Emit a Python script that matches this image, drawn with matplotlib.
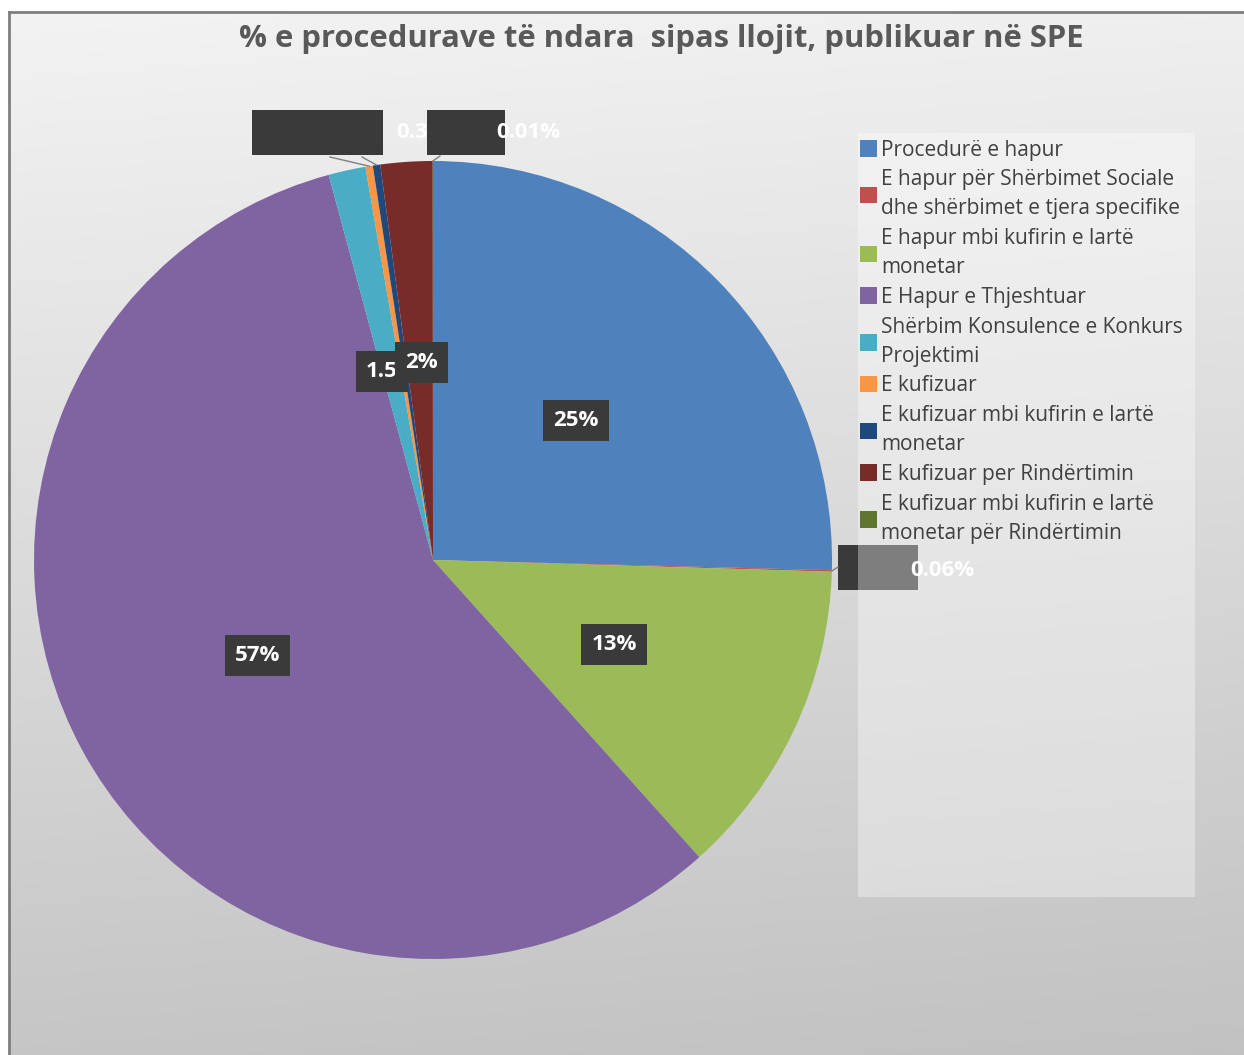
import matplotlib
matplotlib.use("Agg")
import matplotlib.pyplot as plt
from matplotlib.patches import Rectangle
import numpy as np

plt.rcParams['font.family'] = ['Open Sans', 'DejaVu Sans']

# te dhenat
kategorite = [
    "Procedurë e hapur",
    "E hapur për Shërbimet Sociale\ndhe shërbimet e tjera specifike",
    "E hapur mbi kufirin e lartë\nmonetar",
    "E Hapur e Thjeshtuar",
    "Shërbim Konsulence e Konkurs\nProjektimi",
    "E kufizuar",
    "E kufizuar mbi kufirin e lartë\nmonetar",
    "E kufizuar per Rindërtimin",
    "E kufizuar mbi kufirin e lartë\nmonetar për Rindërtimin",
]
vlerat = [25.4, 0.06, 12.9, 57.4, 1.5, 0.3, 0.3, 2.1, 0.01]
etiketat = ["25%", "0.06%", "13%", "57%", "1.5", "0.3", "", "2%", "0.01%"]
ngjyrat = ["#4f81bd", "#c0504d", "#9bbb59", "#8064a2", "#4bacc6",
           "#f79646", "#1f497d", "#772c2a", "#5f7530"]

W, H = 1244, 1055
fig = plt.figure(figsize=(W / 100, H / 100), dpi=100)

# sfondi me gradient
bg = fig.add_axes([0, 0, 1, 1], zorder=-1)
yy, xx = np.mgrid[0:H, 0:W]
g = 0.955 - 0.18 * (yy / H) - 0.015 * (xx / W)
img = np.dstack([g, g, g])
img[:12, :, :] = 1.0
img[:, :9, :] = 1.0
bg.imshow(img, aspect='auto', extent=(0, W, H, 0))
bg.plot([9, 9], [12, H], color="#7f7f7f", lw=2)
bg.plot([9, W], [12, 12], color="#7f7f7f", lw=2)
bg.set_xlim(0, W)
bg.set_ylim(H, 0)
bg.axis('off')

ax = fig.add_axes([0, 0, 1, 1])
ax.set_xlim(0, W)
ax.set_ylim(0, H)
ax.axis('off')


def Y(y):
    return H - y


cx, cy, r = 433, Y(560), 399
wedges, _ = ax.pie(vlerat, colors=ngjyrat, startangle=90, counterclock=False,
                   center=(cx, cy), radius=r, normalize=True,
                   wedgeprops=dict(linewidth=0))
ax.set_xlim(0, W)
ax.set_ylim(0, H)
ax.set_aspect('auto')

box = dict(boxstyle='square,pad=0.45', fc='#3a3a3a', ec='none')
txt = dict(color='white', fontsize=16, fontweight='bold', ha='center', va='center')


def mid(w):
    return np.deg2rad((w.theta1 + w.theta2) / 2)


# etiketat brenda
for i in [0, 2, 3]:
    a = mid(wedges[i])
    ax.text(cx + 0.5 * r * np.cos(a), cy + 0.5 * r * np.sin(a), etiketat[i],
            bbox=box, **txt)
a = mid(wedges[4])
ax.text(cx + 0.5 * r * np.cos(a) - 8, cy + 0.5 * r * np.sin(a) - 6, etiketat[4],
        bbox=box, **txt)
a = mid(wedges[7])
ax.text(cx + 0.5 * r * np.cos(a) + 2, cy + 0.5 * r * np.sin(a) - 2, etiketat[7],
        bbox=box, **txt)


def edge(i):
    a = mid(wedges[i])
    return cx + r * np.cos(a), cy + r * np.sin(a)


# etiketat jashte
for i, x0 in [(5, 330), (6, 362)]:
    ex, ey = edge(i)
    ax.plot([x0, ex], [Y(157), ey], color='#7f7f7f', lw=1)
ax.add_patch(Rectangle((252, Y(155)), 131, 45, fc='#3a3a3a', ec='none'))
ax.text(396, Y(133), etiketat[5], color='white', fontsize=16, fontweight='bold',
        ha='left', va='center')

ex, ey = edge(8)
ax.plot([440, ex], [Y(156), ey], color='#7f7f7f', lw=1)
ax.add_patch(Rectangle((427, Y(155)), 78, 45, fc='#3a3a3a', ec='none'))
ax.text(496, Y(133), etiketat[8], color='white', fontsize=16, fontweight='bold',
        ha='left', va='center')

ex, ey = edge(1)
ax.plot([ex, 838], [ey, Y(567)], color='#7f7f7f', lw=1)
ax.add_patch(Rectangle((838, Y(590)), 80, 45, fc='#3a3a3a', ec='none'))

# legjenda
ax.add_patch(Rectangle((858, Y(897)), 337, 764, fc='white', ec='none',
                       alpha=0.35, zorder=5))
leg = ax.legend(wedges, kategorite, loc='upper left',
                bbox_to_anchor=(845 / W, 1 - 125 / H), bbox_transform=fig.transFigure,
                frameon=False, fontsize=15, handlelength=0.85, handleheight=0.85,
                handletextpad=0.2, labelspacing=0.42, borderpad=0.2)
leg.set_zorder(6)
for t in leg.get_texts():
    t.set_color('#404040')
    t.set_linespacing(1.5)

ax.text(910, Y(570), etiketat[1], color='white', fontsize=16, fontweight='bold',
        ha='left', va='center', zorder=7)

fig.text(661 / W, 1 - 39 / H, "% e procedurave të ndara  sipas llojit, publikuar në SPE",
         ha='center', va='center', fontsize=22.3, fontweight='bold', color='#595959')

fig.savefig("out.png", dpi=100)
